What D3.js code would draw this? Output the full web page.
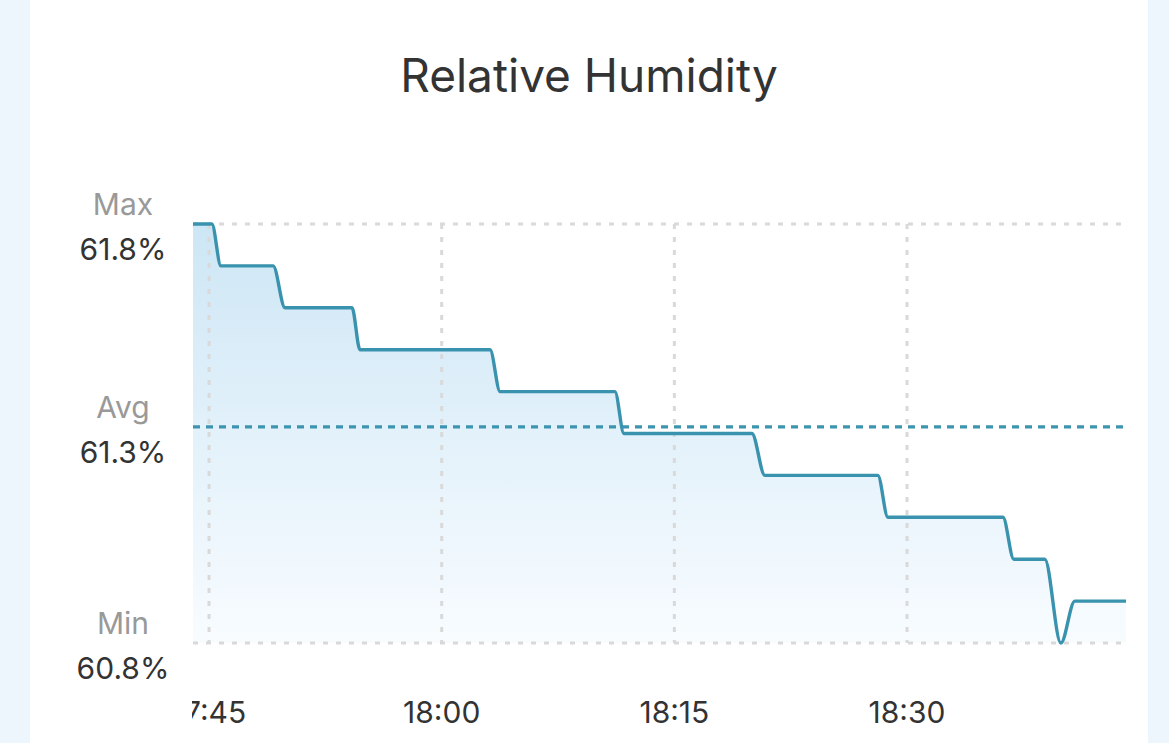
<!DOCTYPE html>
<html><head><meta charset="utf-8">
<script src="https://cdn.jsdelivr.net/npm/d3@7"></script>
<style>
html,body{margin:0;padding:0;background:#eef6fd;}
svg{display:block;}
</style></head>
<body>
<svg id="c" width="1169" height="743"></svg>
<script>
// ---- data ----
const times = ["17:43:58","17:45:11","17:45:46","17:49:08","17:49:54","17:54:13","17:54:44","18:03:07","18:03:46","18:11:10","18:11:45","18:20:00","18:20:50","18:28:07","18:28:46","18:36:11","18:36:53","18:38:53","18:39:55","18:40:49","18:44:07"];
const humidity = [61.8,61.8,61.7,61.7,61.6,61.6,61.5,61.5,61.4,61.4,61.3,61.3,61.2,61.2,61.1,61.1,61.0,61.0,60.8,60.9,60.9];
const tickTimes = ["17:45","18:00","18:15","18:30"];
const tickLabels = ["17:45","18:00","18:15","18:30"];
const refNames = ["Max","Avg","Min"];
const refValues = [61.8,61.316,60.8];
const refLabels = ["61.8%","61.3%","60.8%"];
const title = "Relative Humidity";

const parse = d3.timeParse("%H:%M:%S");
const parseHM = d3.timeParse("%H:%M");
const data = times.map((t,i)=>({t:parse(t), v:humidity[i]}));

const svg = d3.select("#c");
const W=1169,H=743;
const L=193,R=1126,T=224,B=643;
const FONT="Inter, 'Open Sans', sans-serif";

// card
svg.append("rect").attr("x",30).attr("y",0).attr("width",1118).attr("height",H).attr("fill","#ffffff");

const x = d3.scaleTime().domain(d3.extent(data,d=>d.t)).range([L,R]);
const y = d3.scaleLinear().domain([60.8,61.8]).range([B,T]);

// title
svg.append("text").attr("x",589).attr("y",92).attr("text-anchor","middle")
  .attr("font-family",FONT).attr("font-size",46).attr("fill","#333")
  .text(title);

// gradient
const defs = svg.append("defs");
const g = defs.append("linearGradient").attr("id","ag").attr("x1",0).attr("y1",0).attr("x2",0).attr("y2",1);
g.append("stop").attr("offset","0%").attr("stop-color","#cde6f5");
g.append("stop").attr("offset","100%").attr("stop-color","#f8fcff");
defs.append("clipPath").attr("id","xclip").append("rect").attr("x",192).attr("y",660).attr("width",1000).attr("height",80);

// area
const area = d3.area().x(d=>x(d.t)).y0(B).y1(d=>y(d.v)).curve(d3.curveMonotoneX);
svg.append("path").datum(data).attr("d",area).attr("fill","url(#ag)");

// grid
const grid = svg.append("g").attr("stroke","#d9d9d9").attr("stroke-width",3).attr("stroke-dasharray","5,8").attr("fill","none");
tickTimes.forEach(t=>{
  const xx = x(parseHM(t));
  grid.append("line").attr("x1",xx).attr("x2",xx).attr("y1",T).attr("y2",B);
});
grid.append("line").attr("x1",L).attr("x2",R).attr("y1",y(refValues[0])).attr("y2",y(refValues[0]));
grid.append("line").attr("x1",L).attr("x2",R).attr("y1",y(refValues[2])).attr("y2",y(refValues[2]));

// avg line
svg.append("line").attr("x1",L).attr("x2",R).attr("y1",y(refValues[1])).attr("y2",y(refValues[1]))
  .attr("stroke","#3c94ae").attr("stroke-width",3.2).attr("stroke-dasharray","7,6");

// line
const line = d3.line().x(d=>x(d.t)).y(d=>y(d.v)).curve(d3.curveMonotoneX);
svg.append("path").datum(data).attr("d",line).attr("fill","none")
  .attr("stroke","#3a93ae").attr("stroke-width",3.4).attr("stroke-linejoin","round");

// y labels
const yl = svg.append("g").attr("font-family",FONT).attr("text-anchor","middle").attr("font-size",30);
refNames.forEach((n,i)=>{
  const yy = y(refValues[i]);
  yl.append("text").attr("x",123).attr("y",yy-9).attr("fill","#999").text(n);
  yl.append("text").attr("x",123).attr("y",yy+36).attr("fill","#333").text(refLabels[i]);
});

// x axis
const xa = svg.append("g").attr("clip-path","url(#xclip)").attr("font-family",FONT).attr("font-size",30).attr("text-anchor","middle").attr("fill","#333");
tickTimes.forEach((t,i)=>{
  xa.append("text").attr("x",x(parseHM(t))).attr("y",723).text(tickLabels[i]);
});
</script>
</body></html>
